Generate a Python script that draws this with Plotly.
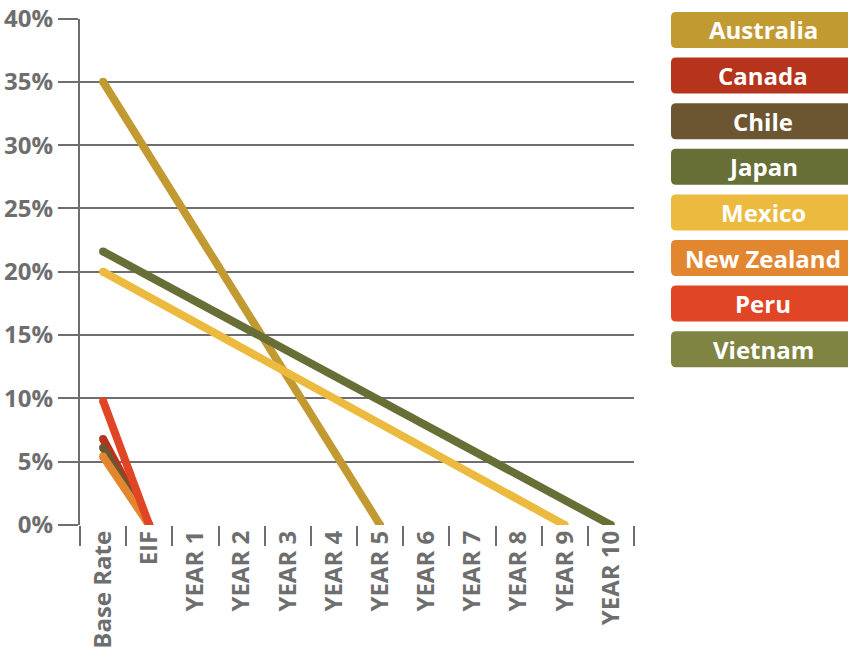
import plotly.graph_objects as go

# Category axis: base rate, entry into force, then the phase-out years
categories = ["Base Rate", "EIF"] + [f"YEAR {i}" for i in range(1, 11)]

# Tariff phase-out paths (percent) for each country
australia_x = ["Base Rate", "YEAR 5"]
australia_y = [35, 0]
canada_x = ["Base Rate", "EIF"]
canada_y = [6.8, 0]
chile_x = ["Base Rate", "EIF"]
chile_y = [6.1, 0]
japan_x = ["Base Rate", "YEAR 10"]
japan_y = [21.6, 0]
mexico_x = ["Base Rate", "YEAR 9"]
mexico_y = [20, 0]
new_zealand_x = ["Base Rate", "EIF"]
new_zealand_y = [5.4, 0]
peru_x = ["Base Rate", "EIF"]
peru_y = [9.8, 0]

y_ticks = [0, 5, 10, 15, 20, 25, 30, 35, 40]
y_tick_labels = [f"{v}%" for v in y_ticks]

legend_names = ["Australia", "Canada", "Chile", "Japan", "Mexico",
                "New Zealand", "Peru", "Vietnam"]
legend_colors = ["#C29A32", "#B5341B", "#6C5632", "#676E36", "#EBBA3E",
                 "#E38630", "#E04525", "#7F8443"]
color_of = dict(zip(legend_names, legend_colors))

series = [
    ("Australia", australia_x, australia_y),
    ("Canada", canada_x, canada_y),
    ("Chile", chile_x, chile_y),
    ("Japan", japan_x, japan_y),
    ("Mexico", mexico_x, mexico_y),
    ("New Zealand", new_zealand_x, new_zealand_y),
    ("Peru", peru_x, peru_y),
]

W, H = 848, 649
GREY = "#6e6e6e"
LINE_W = 8
FONT = "Open Sans"

fig = go.Figure()
for name, xs, ys in series:
    c = color_of[name]
    fig.add_trace(go.Scatter(
        x=xs, y=ys, name=name, mode="lines+markers",
        line=dict(color=c, width=LINE_W),
        marker=dict(color=c, size=LINE_W, line=dict(width=0)),
        hoverinfo="skip", showlegend=False,
    ))

# Legend: coloured rounded boxes with white labels, drawn in paper space
def rounded_rect(x0, y0, x1, y1, r):
    rx, ry = r / W, r / H
    X0, X1 = x0 / W, x1 / W
    Y0, Y1 = 1 - y1 / H, 1 - y0 / H  # bottom, top in paper coords
    return (f"M {X0 + rx},{Y0} L {X1 - rx},{Y0} Q {X1},{Y0} {X1},{Y0 + ry} "
            f"L {X1},{Y1 - ry} Q {X1},{Y1} {X1 - rx},{Y1} "
            f"L {X0 + rx},{Y1} Q {X0},{Y1} {X0},{Y1 - ry} "
            f"L {X0},{Y0 + ry} Q {X0},{Y0} {X0 + rx},{Y0} Z")

shapes = []
annotations = []
box_top0, box_h, box_step = 12, 36, 45.6
for i, (name, col) in enumerate(zip(legend_names, legend_colors)):
    top = box_top0 + i * box_step
    shapes.append(dict(type="path", xref="paper", yref="paper",
                       path=rounded_rect(671, top, 862, top + box_h, 5),
                       fillcolor=col, line=dict(width=0), layer="above"))
    annotations.append(dict(x=763 / W, y=1 - (top + box_h / 2) / H,
                            xref="paper", yref="paper", text=name,
                            showarrow=False, xanchor="center", yanchor="middle",
                            font=dict(family=FONT, size=24,
                                      color="white", weight="bold")))

fig.update_layout(
    width=W, height=H,
    template="none",
    margin=dict(l=0, r=0, t=0, b=0),
    paper_bgcolor="white", plot_bgcolor="white",
    shapes=shapes, annotations=annotations,
    showlegend=False,
    xaxis=dict(
        type="category", categoryorder="array", categoryarray=categories,
        tickvals=categories, range=[-0.5, len(categories) - 0.5],
        domain=[80 / W, 634 / W], automargin=False,
        showgrid=False, zeroline=False, showline=False,
        ticks="outside", tickson="boundaries", ticklen=20, tickwidth=2,
        tickcolor=GREY, tickangle=-90,
        tickfont=dict(family=FONT, size=24, color=GREY, weight="bold"),
    ),
    yaxis=dict(
        range=[0, 40], tickvals=y_ticks, ticktext=y_tick_labels,
        domain=[1 - 525 / H, 1 - 18.5 / H], automargin=False,
        showgrid=True, gridcolor=GREY, gridwidth=2,
        zeroline=False, showline=True, linecolor=GREY, linewidth=2,
        ticks="outside", ticklen=20, tickwidth=2, tickcolor=GREY,
        tickfont=dict(family=FONT, size=24, color=GREY, weight="bold"),
    ),
)

fig.write_html("out.html")
